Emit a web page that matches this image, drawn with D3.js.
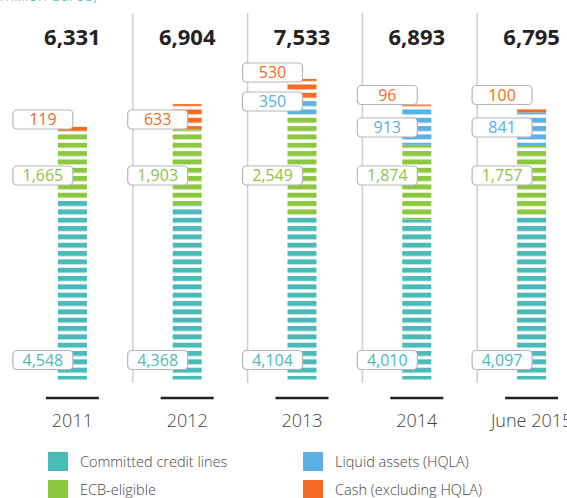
<!DOCTYPE html>
<html>
<head>
<meta charset="utf-8">
<script src="https://cdn.jsdelivr.net/npm/d3@7"></script>
<style>
  body { margin: 0; background: #fff; }
  svg { display: block; font-family: "Open Sans", sans-serif; }
</style>
</head>
<body>
<div id="chart"></div>
<script>
// data (million euros)
var years = ["2011", "2012", "2013", "2014", "June 2015"];
var committed = [4548, 4368, 4104, 4010, 4097];
var ecbEligible = [1665, 1903, 2549, 1874, 1757];
var liquidAssets = [0, 0, 350, 913, 841];
var cashExHqla = [119, 633, 530, 96, 100];
var totals = [6331, 6904, 7533, 6893, 6795];
var seriesKeys = ["committed", "ecb", "hqla", "cash"];
var seriesNames = ["Committed credit lines", "ECB-eligible", "Liquid assets (HQLA)", "Cash (excluding HQLA)"];
var seriesColors = ["#4bbbb8", "#8dc63f", "#5ab1e2", "#f36b25"];

var svgWidth = 567;
var svgHeight = 498;
var baseline = 379.5;
var barWidth = 29;
var period = 8.33;   // stripe repeat
var stripe = 5;

// where the callout boxes sit (per column, per series)
var calloutY = [
  [360, 175.5, null, 119.5],
  [360, 175.5, null, 119.5],
  [360, 175.5, 101.5, 72.5],
  [360, 175.5, 127.5, 95],
  [360, 175.5, 127.5, 95]
];

var table = years.map(function(y, i) {
  return { year: y, committed: committed[i], ecb: ecbEligible[i], hqla: liquidAssets[i], cash: cashExHqla[i] };
});

var svg = d3.select("#chart").append("svg")
  .attr("width", svgWidth)
  .attr("height", svgHeight);

var x = d3.scaleBand()
  .domain(years)
  .range([15, 589]);

var y = d3.scaleLinear()
  .domain([0, d3.max(totals)])
  .range([baseline, 79]);

//stripe patterns
var defs = svg.append("defs");
seriesColors.forEach(function(c, i) {
  var p = defs.append("pattern")
    .attr("id", "stripe" + i)
    .attr("patternUnits", "userSpaceOnUse")
    .attr("width", 40)
    .attr("height", period)
    .attr("patternTransform", "translate(0,376)");
  p.append("rect")
    .attr("x", 0)
    .attr("y", 0)
    .attr("width", 40)
    .attr("height", stripe)
    .attr("fill", c);
});

// unit caption, cut off at the top
svg.append("text")
  .attr("x", 97)
  .attr("y", 0.5)
  .attr("text-anchor", "end")
  .attr("font-size", 16)
  .attr("font-weight", 300)
  .attr("fill", "#4bbbb8")
  .text("(million euros)");

// separators
svg.selectAll(".sep")
  .data(years.slice(1))
  .enter()
  .append("line")
  .attr("class", "sep")
  .attr("x1", d => x(d) + 3)
  .attr("x2", d => x(d) + 3)
  .attr("y1", 13)
  .attr("y2", 383)
  .attr("stroke", "#cfcfcf")
  .attr("stroke-width", 1.5);

var stacked = d3.stack().keys(seriesKeys)(table);

var layers = svg.selectAll(".layer")
  .data(stacked)
  .enter()
  .append("g")
  .attr("class", "layer")
  .attr("fill", (d, i) => "url(#stripe" + i + ")");

layers.selectAll("rect")
  .data(d => d.filter(s => s[1] > s[0]))
  .enter()
  .append("rect")
  .attr("x", d => x(d.data.year) + x.bandwidth() / 2 - barWidth / 2)
  .attr("y", d => y(d[1]))
  .attr("width", barWidth)
  .attr("height", d => y(d[0]) - y(d[1]));

// callouts
var fmt = d3.format(",");
var callouts = [];
table.forEach(function(row, i) {
  seriesKeys.forEach(function(k, j) {
    if (row[k] > 0 && calloutY[i][j] != null) {
      callouts.push({ year: row.year, value: row[k], s: j, cy: calloutY[i][j] });
    }
  });
});

var boxes = svg.selectAll(".callout")
  .data(callouts)
  .enter()
  .append("g")
  .attr("class", "callout")
  .attr("transform", d => `translate(${x(d.year) + x.bandwidth() / 2 - barWidth / 2 - 45}, ${d.cy})`);

boxes.append("rect")
  .attr("x", 0)
  .attr("y", -9.5)
  .attr("width", 60)
  .attr("height", 19)
  .attr("rx", 4)
  .attr("fill", "#fff")
  .attr("stroke", "#b5b5b5")
  .attr("stroke-width", 1.2);

boxes.append("text")
  .attr("x", 30)
  .attr("y", 0)
  .attr("dy", "0.36em")
  .attr("text-anchor", "middle")
  .attr("font-size", 16)
  .attr("fill", d => seriesColors[d.s])
  .text(d => fmt(d.value));

// totals
svg.selectAll(".total")
  .data(years)
  .enter()
  .append("text")
  .attr("class", "total")
  .attr("x", d => x(d) + x.bandwidth() / 2)
  .attr("y", 45)
  .attr("text-anchor", "middle")
  .attr("font-size", 22)
  .attr("font-weight", 700)
  .attr("fill", "#222")
  .text((d, i) => fmt(totals[i]));

// x axis ticks: short black rule + label
svg.selectAll(".rule")
  .data(years)
  .enter()
  .append("line")
  .attr("x1", d => x(d) + x.bandwidth() / 2 - 26.5)
  .attr("x2", d => x(d) + x.bandwidth() / 2 + 26.5)
  .attr("y1", 398)
  .attr("y2", 398)
  .attr("stroke", "#222")
  .attr("stroke-width", 2.5);

svg.selectAll(".year")
  .data(years)
  .enter()
  .append("text")
  .attr("class", "year")
  .attr("x", d => x(d) + x.bandwidth() / 2)
  .attr("y", 427)
  .attr("text-anchor", "middle")
  .attr("font-size", 18)
  .attr("font-weight", 300)
  .attr("fill", "#444")
  .text(d => d);

// legend
var legend = svg.selectAll(".legend")
  .data(seriesNames)
  .enter()
  .append("g")
  .attr("class", "legend")
  .attr("transform", (d, i) => `translate(${i < 2 ? 48 : 303}, ${452 + (i % 2) * 28})`);

legend.append("rect")
  .attr("width", 20)
  .attr("height", 19)
  .attr("fill", (d, i) => seriesColors[i]);

legend.append("text")
  .attr("x", 32)
  .attr("y", 10)
  .attr("dy", "0.35em")
  .attr("font-size", 14.5)
  .attr("font-weight", 300)
  .attr("fill", "#444")
  .text(d => d);
</script>
</body>
</html>
